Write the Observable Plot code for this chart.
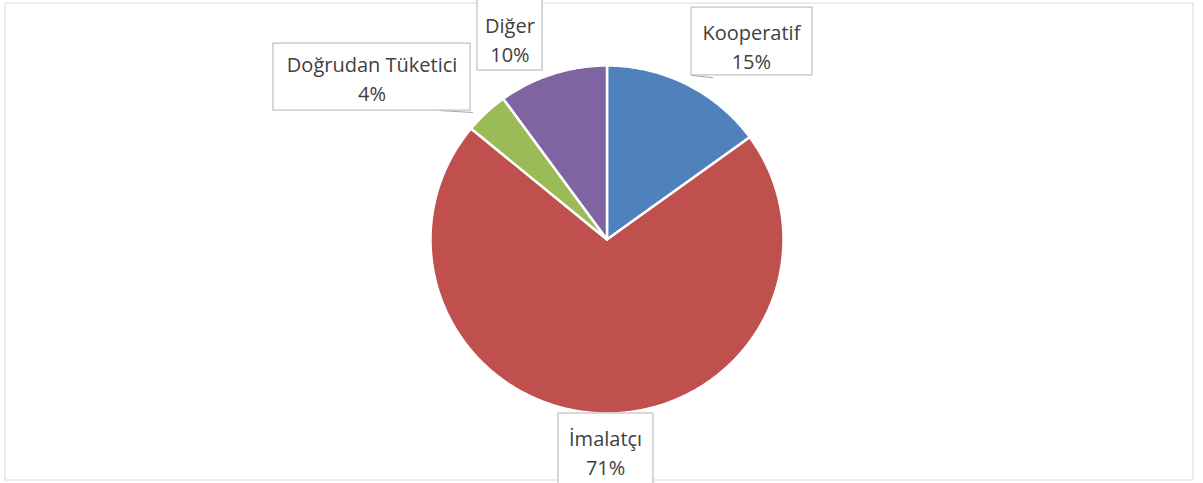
<!DOCTYPE html>
<html>
<head>
<meta charset="utf-8">
<script src="https://cdn.jsdelivr.net/npm/d3@7"></script>
<script src="https://cdn.jsdelivr.net/npm/@observablehq/plot@0.6"></script>
<style>
  html, body { margin: 0; padding: 0; background: #fff; }
  #chart svg { display: block; }
</style>
</head>
<body>
<div id="chart"></div>
<script>
// ---- data ----
const categories = ["Kooperatif", "İmalatçı", "Doğrudan Tüketici", "Diğer"];
const shares = [15, 71, 4, 10];
const labels = ["Kooperatif\n15%", "İmalatçı\n71%", "Doğrudan Tüketici\n4%", "Diğer\n10%"];
const colors = ["#4F81BD", "#C0504D", "#9BBB59", "#8064A2"];

// ---- label layout (in pie units: 1 = radius) ----
const labelBoxX1 = [0.479, -0.275, -1.890, -0.734];
const labelBoxX2 = [1.164, 0.263, -0.773, -0.365];
const labelBoxY1 = [0.943, -1.50, 0.741, 0.971];
const labelBoxY2 = [1.333, -1.0, 1.126, 1.40];
const labelTextX = [0.818, -0.008, -1.331, -0.550];
const labelTextY = [1.118, -1.218, 0.930, 1.158];
const leaders = [
  {x1: 0.479, y1: 0.943, x2: 0.60, y2: 0.93},
  {x1: -0.95, y1: 0.741, x2: -0.76, y2: 0.73}
];

// ---- build slice polygons ----
const total = d3.sum(shares);
const polys = [];
let acc = 0;
shares.forEach((v, i) => {
  const a0 = acc / total * 2 * Math.PI;
  acc += v;
  const a1 = acc / total * 2 * Math.PI;
  polys.push({cat: categories[i], x: 0, y: 0});
  const n = Math.max(2, Math.ceil((a1 - a0) / (Math.PI / 360)));
  for (let k = 0; k <= n; k++) {
    const a = a0 + (a1 - a0) * k / n;
    polys.push({cat: categories[i], x: Math.sin(a), y: Math.cos(a)});
  }
});

const boxes = categories.map((c, i) => ({
  cat: c, x1: labelBoxX1[i], x2: labelBoxX2[i], y1: labelBoxY1[i], y2: labelBoxY2[i],
  tx: labelTextX[i], ty: labelTextY[i], label: labels[i]
}));

const chart = Plot.plot({
  width: 1203,
  height: 483,
  margin: 0,
  x: {domain: [-1, 1], range: [430, 783], axis: null},
  y: {domain: [-1, 1], range: [413, 65], axis: null},
  color: {domain: categories, range: colors},
  style: {fontFamily: "'Open Sans', sans-serif", background: "#fff"},
  marks: [
    Plot.rect([{}], {x1: -3.408, x2: 3.323, y1: -1.385, y2: 1.356, fill: "none", stroke: "#d9d9d9", strokeWidth: 1}),
    Plot.line(polys, {x: "x", y: "y", z: "cat", fill: "cat", stroke: "#fff", strokeWidth: 2.5, curve: "linear-closed", strokeLinejoin: "round"}),
    Plot.link(leaders, {x1: "x1", y1: "y1", x2: "x2", y2: "y2", stroke: "#a6a6a6", strokeWidth: 1}),
    Plot.rect(boxes, {x1: "x1", x2: "x2", y1: "y1", y2: "y2", fill: "#fff", stroke: "#bfbfbf", strokeWidth: 1.2}),
    Plot.text(boxes, {x: "tx", y: "ty", text: "label", fontSize: 20, fill: "#404040", lineHeight: 1.45, textAnchor: "middle", lineAnchor: "middle"})
  ]
});
document.getElementById("chart").appendChild(chart);
</script>
</body>
</html>
